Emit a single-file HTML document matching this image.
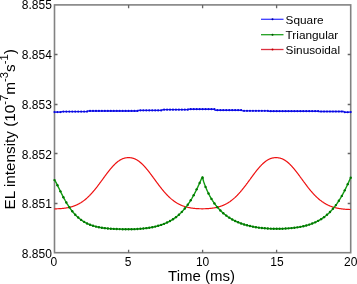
<!DOCTYPE html>
<html><head><meta charset="utf-8"><style>
html,body{margin:0;padding:0;background:#fff;}
body{width:357px;height:284px;overflow:hidden;font-family:"Liberation Sans",sans-serif;}
svg{display:block;will-change:transform;filter:blur(0.3px);}
</style></head><body>
<svg width="357" height="284" viewBox="0 0 357 284"><rect x="54.5" y="4.9" width="296.2" height="247.8" fill="none" stroke="#828282" stroke-width="1.6"/><path d="M54.5,54.5 h3 M350.7,54.5 h-3 M54.5,104.5 h3 M350.7,104.5 h-3 M54.5,153.5 h3 M350.7,153.5 h-3 M54.5,203.5 h3 M350.7,203.5 h-3 M128.6,252.7 v-3 M128.6,4.9 v3.4 M202.6,252.7 v-3 M202.6,4.9 v3.4 M276.6,252.7 v-3 M276.6,4.9 v3.4" stroke="#666" stroke-width="1.3" fill="none"/><path d="M54.50,208.81 L54.80,208.81 L55.09,208.81 L55.39,208.80 L55.68,208.80 L55.98,208.80 L56.28,208.79 L56.57,208.79 L56.87,208.78 L57.17,208.77 L57.46,208.76 L57.76,208.75 L58.05,208.74 L58.35,208.73 L58.65,208.71 L58.94,208.70 L59.24,208.68 L59.54,208.67 L59.83,208.65 L60.13,208.63 L60.42,208.61 L60.72,208.59 L61.02,208.57 L61.31,208.55 L61.61,208.52 L61.91,208.49 L62.20,208.47 L62.50,208.44 L62.79,208.41 L63.09,208.38 L63.39,208.35 L63.68,208.31 L63.98,208.28 L64.27,208.24 L64.57,208.20 L64.87,208.16 L65.16,208.12 L65.46,208.08 L65.76,208.03 L66.05,207.99 L66.35,207.94 L66.64,207.89 L66.94,207.84 L67.24,207.78 L67.53,207.73 L67.83,207.67 L68.13,207.61 L68.42,207.55 L68.72,207.49 L69.01,207.43 L69.31,207.36 L69.61,207.29 L69.90,207.22 L70.20,207.15 L70.49,207.07 L70.79,206.99 L71.09,206.91 L71.38,206.83 L71.68,206.74 L71.98,206.66 L72.27,206.57 L72.57,206.47 L72.86,206.38 L73.16,206.28 L73.46,206.18 L73.75,206.08 L74.05,205.97 L74.35,205.86 L74.64,205.75 L74.94,205.63 L75.23,205.52 L75.53,205.40 L75.83,205.27 L76.12,205.14 L76.42,205.01 L76.72,204.88 L77.01,204.74 L77.31,204.60 L77.60,204.46 L77.90,204.31 L78.20,204.16 L78.49,204.01 L78.79,203.85 L79.08,203.69 L79.38,203.53 L79.68,203.36 L79.97,203.19 L80.27,203.01 L80.57,202.84 L80.86,202.65 L81.16,202.47 L81.45,202.28 L81.75,202.08 L82.05,201.88 L82.34,201.68 L82.64,201.48 L82.94,201.27 L83.23,201.05 L83.53,200.84 L83.82,200.61 L84.12,200.39 L84.42,200.16 L84.71,199.93 L85.01,199.69 L85.30,199.45 L85.60,199.20 L85.90,198.95 L86.19,198.70 L86.49,198.44 L86.79,198.18 L87.08,197.91 L87.38,197.64 L87.67,197.37 L87.97,197.09 L88.27,196.81 L88.56,196.52 L88.86,196.23 L89.16,195.94 L89.45,195.64 L89.75,195.34 L90.04,195.03 L90.34,194.72 L90.64,194.41 L90.93,194.09 L91.23,193.77 L91.53,193.44 L91.82,193.12 L92.12,192.78 L92.41,192.45 L92.71,192.11 L93.01,191.77 L93.30,191.42 L93.60,191.07 L93.89,190.72 L94.19,190.37 L94.49,190.01 L94.78,189.65 L95.08,189.28 L95.38,188.91 L95.67,188.54 L95.97,188.17 L96.26,187.79 L96.56,187.42 L96.86,187.04 L97.15,186.65 L97.45,186.27 L97.75,185.88 L98.04,185.49 L98.34,185.10 L98.63,184.71 L98.93,184.31 L99.23,183.92 L99.52,183.52 L99.82,183.12 L100.11,182.72 L100.41,182.32 L100.71,181.92 L101.00,181.51 L101.30,181.11 L101.60,180.71 L101.89,180.30 L102.19,179.90 L102.48,179.49 L102.78,179.08 L103.08,178.68 L103.37,178.27 L103.67,177.87 L103.97,177.46 L104.26,177.06 L104.56,176.66 L104.85,176.25 L105.15,175.85 L105.45,175.45 L105.74,175.05 L106.04,174.66 L106.34,174.26 L106.63,173.87 L106.93,173.48 L107.22,173.09 L107.52,172.70 L107.82,172.31 L108.11,171.93 L108.41,171.55 L108.70,171.17 L109.00,170.80 L109.30,170.43 L109.59,170.06 L109.89,169.69 L110.19,169.33 L110.48,168.97 L110.78,168.62 L111.07,168.27 L111.37,167.92 L111.67,167.58 L111.96,167.24 L112.26,166.91 L112.56,166.58 L112.85,166.26 L113.15,165.94 L113.44,165.62 L113.74,165.31 L114.04,165.01 L114.33,164.71 L114.63,164.41 L114.92,164.12 L115.22,163.84 L115.52,163.56 L115.81,163.29 L116.11,163.03 L116.41,162.77 L116.70,162.51 L117.00,162.26 L117.29,162.02 L117.59,161.79 L117.89,161.56 L118.18,161.33 L118.48,161.12 L118.78,160.91 L119.07,160.70 L119.37,160.50 L119.66,160.31 L119.96,160.13 L120.26,159.95 L120.55,159.78 L120.85,159.62 L121.14,159.46 L121.44,159.31 L121.74,159.17 L122.03,159.03 L122.33,158.90 L122.63,158.78 L122.92,158.66 L123.22,158.55 L123.51,158.45 L123.81,158.35 L124.11,158.26 L124.40,158.18 L124.70,158.10 L125.00,158.03 L125.29,157.97 L125.59,157.91 L125.88,157.86 L126.18,157.82 L126.48,157.78 L126.77,157.74 L127.07,157.72 L127.37,157.70 L127.66,157.68 L127.96,157.67 L128.25,157.66 L128.55,157.66 L128.85,157.66 L129.14,157.67 L129.44,157.68 L129.73,157.69 L130.03,157.71 L130.33,157.74 L130.62,157.77 L130.92,157.81 L131.22,157.85 L131.51,157.90 L131.81,157.96 L132.10,158.02 L132.40,158.09 L132.70,158.16 L132.99,158.24 L133.29,158.33 L133.59,158.43 L133.88,158.53 L134.18,158.64 L134.47,158.75 L134.77,158.87 L135.07,159.00 L135.36,159.14 L135.66,159.28 L135.95,159.43 L136.25,159.58 L136.55,159.75 L136.84,159.92 L137.14,160.09 L137.44,160.28 L137.73,160.46 L138.03,160.66 L138.32,160.86 L138.62,161.07 L138.92,161.29 L139.21,161.51 L139.51,161.74 L139.81,161.97 L140.10,162.21 L140.40,162.46 L140.69,162.71 L140.99,162.97 L141.29,163.24 L141.58,163.51 L141.88,163.78 L142.18,164.06 L142.47,164.35 L142.77,164.65 L143.06,164.94 L143.36,165.25 L143.66,165.56 L143.95,165.87 L144.25,166.19 L144.54,166.51 L144.84,166.84 L145.14,167.17 L145.43,167.51 L145.73,167.85 L146.03,168.20 L146.32,168.54 L146.62,168.90 L146.91,169.26 L147.21,169.62 L147.51,169.98 L147.80,170.35 L148.10,170.72 L148.40,171.09 L148.69,171.47 L148.99,171.85 L149.28,172.23 L149.58,172.62 L149.88,173.00 L150.17,173.39 L150.47,173.78 L150.76,174.18 L151.06,174.57 L151.36,174.97 L151.65,175.37 L151.95,175.77 L152.25,176.17 L152.54,176.57 L152.84,176.97 L153.13,177.38 L153.43,177.78 L153.73,178.19 L154.02,178.59 L154.32,179.00 L154.62,179.40 L154.91,179.81 L155.21,180.22 L155.50,180.62 L155.80,181.03 L156.10,181.43 L156.39,181.83 L156.69,182.24 L156.99,182.64 L157.28,183.04 L157.58,183.44 L157.87,183.83 L158.17,184.23 L158.47,184.63 L158.76,185.02 L159.06,185.41 L159.35,185.80 L159.65,186.19 L159.95,186.57 L160.24,186.96 L160.54,187.34 L160.84,187.72 L161.13,188.09 L161.43,188.46 L161.72,188.84 L162.02,189.20 L162.32,189.57 L162.61,189.93 L162.91,190.29 L163.21,190.65 L163.50,191.00 L163.80,191.35 L164.09,191.70 L164.39,192.04 L164.69,192.38 L164.98,192.71 L165.28,193.05 L165.57,193.38 L165.87,193.70 L166.17,194.02 L166.46,194.34 L166.76,194.66 L167.06,194.97 L167.35,195.27 L167.65,195.58 L167.94,195.87 L168.24,196.17 L168.54,196.46 L168.83,196.75 L169.13,197.03 L169.43,197.31 L169.72,197.58 L170.02,197.86 L170.31,198.12 L170.61,198.39 L170.91,198.64 L171.20,198.90 L171.50,199.15 L171.80,199.40 L172.09,199.64 L172.39,199.88 L172.68,200.11 L172.98,200.34 L173.28,200.57 L173.57,200.79 L173.87,201.01 L174.16,201.22 L174.46,201.43 L174.76,201.64 L175.05,201.84 L175.35,202.04 L175.65,202.24 L175.94,202.43 L176.24,202.61 L176.53,202.80 L176.83,202.98 L177.13,203.15 L177.42,203.32 L177.72,203.49 L178.02,203.66 L178.31,203.82 L178.61,203.98 L178.90,204.13 L179.20,204.28 L179.50,204.43 L179.79,204.57 L180.09,204.71 L180.38,204.85 L180.68,204.99 L180.98,205.12 L181.27,205.24 L181.57,205.37 L181.87,205.49 L182.16,205.61 L182.46,205.72 L182.75,205.84 L183.05,205.95 L183.35,206.05 L183.64,206.16 L183.94,206.26 L184.24,206.36 L184.53,206.45 L184.83,206.55 L185.12,206.64 L185.42,206.72 L185.72,206.81 L186.01,206.89 L186.31,206.97 L186.61,207.05 L186.90,207.13 L187.20,207.20 L187.49,207.27 L187.79,207.34 L188.09,207.41 L188.38,207.47 L188.68,207.54 L188.97,207.60 L189.27,207.66 L189.57,207.71 L189.86,207.77 L190.16,207.82 L190.46,207.87 L190.75,207.92 L191.05,207.97 L191.34,208.02 L191.64,208.06 L191.94,208.11 L192.23,208.15 L192.53,208.19 L192.83,208.23 L193.12,208.26 L193.42,208.30 L193.71,208.33 L194.01,208.36 L194.31,208.40 L194.60,208.43 L194.90,208.45 L195.19,208.48 L195.49,208.51 L195.79,208.53 L196.08,208.55 L196.38,208.58 L196.68,208.60 L196.97,208.62 L197.27,208.63 L197.56,208.65 L197.86,208.67 L198.16,208.68 L198.45,208.70 L198.75,208.71 L199.05,208.72 L199.34,208.73 L199.64,208.74 L199.93,208.75 L200.23,208.76 L200.53,208.76 L200.82,208.77 L201.12,208.77 L201.42,208.78 L201.71,208.78 L202.01,208.78 L202.30,208.78 L202.60,208.78 L202.90,208.78 L203.19,208.78 L203.49,208.77 L203.78,208.77 L204.08,208.76 L204.38,208.76 L204.67,208.75 L204.97,208.74 L205.27,208.73 L205.56,208.72 L205.86,208.71 L206.15,208.70 L206.45,208.68 L206.75,208.67 L207.04,208.65 L207.34,208.63 L207.64,208.62 L207.93,208.60 L208.23,208.58 L208.52,208.55 L208.82,208.53 L209.12,208.51 L209.41,208.48 L209.71,208.45 L210.00,208.43 L210.30,208.40 L210.60,208.37 L210.89,208.33 L211.19,208.30 L211.49,208.26 L211.78,208.23 L212.08,208.19 L212.37,208.15 L212.67,208.11 L212.97,208.06 L213.26,208.02 L213.56,207.97 L213.86,207.93 L214.15,207.88 L214.45,207.82 L214.74,207.77 L215.04,207.72 L215.34,207.66 L215.63,207.60 L215.93,207.54 L216.23,207.48 L216.52,207.41 L216.82,207.34 L217.11,207.27 L217.41,207.20 L217.71,207.13 L218.00,207.05 L218.30,206.97 L218.59,206.89 L218.89,206.81 L219.19,206.73 L219.48,206.64 L219.78,206.55 L220.08,206.45 L220.37,206.36 L220.67,206.26 L220.96,206.16 L221.26,206.05 L221.56,205.95 L221.85,205.84 L222.15,205.73 L222.45,205.61 L222.74,205.49 L223.04,205.37 L223.33,205.25 L223.63,205.12 L223.93,204.99 L224.22,204.85 L224.52,204.72 L224.81,204.58 L225.11,204.43 L225.41,204.29 L225.70,204.13 L226.00,203.98 L226.30,203.82 L226.59,203.66 L226.89,203.50 L227.18,203.33 L227.48,203.16 L227.78,202.98 L228.07,202.80 L228.37,202.62 L228.67,202.43 L228.96,202.24 L229.26,202.04 L229.55,201.85 L229.85,201.64 L230.15,201.44 L230.44,201.23 L230.74,201.01 L231.04,200.79 L231.33,200.57 L231.63,200.35 L231.92,200.12 L232.22,199.88 L232.52,199.64 L232.81,199.40 L233.11,199.15 L233.40,198.90 L233.70,198.65 L234.00,198.39 L234.29,198.13 L234.59,197.86 L234.89,197.59 L235.18,197.31 L235.48,197.04 L235.77,196.75 L236.07,196.47 L236.37,196.18 L236.66,195.88 L236.96,195.58 L237.26,195.28 L237.55,194.97 L237.85,194.66 L238.14,194.35 L238.44,194.03 L238.74,193.71 L239.03,193.38 L239.33,193.05 L239.62,192.72 L239.92,192.38 L240.22,192.05 L240.51,191.70 L240.81,191.36 L241.11,191.01 L241.40,190.65 L241.70,190.30 L241.99,189.94 L242.29,189.58 L242.59,189.21 L242.88,188.84 L243.18,188.47 L243.48,188.10 L243.77,187.72 L244.07,187.34 L244.36,186.96 L244.66,186.58 L244.96,186.20 L245.25,185.81 L245.55,185.42 L245.85,185.03 L246.14,184.63 L246.44,184.24 L246.73,183.84 L247.03,183.44 L247.33,183.05 L247.62,182.64 L247.92,182.24 L248.21,181.84 L248.51,181.44 L248.81,181.03 L249.10,180.63 L249.40,180.22 L249.70,179.82 L249.99,179.41 L250.29,179.01 L250.58,178.60 L250.88,178.20 L251.18,177.79 L251.47,177.39 L251.77,176.98 L252.07,176.58 L252.36,176.18 L252.66,175.78 L252.95,175.38 L253.25,174.98 L253.55,174.58 L253.84,174.19 L254.14,173.79 L254.44,173.40 L254.73,173.01 L255.03,172.62 L255.32,172.24 L255.62,171.86 L255.92,171.48 L256.21,171.10 L256.51,170.73 L256.80,170.36 L257.10,169.99 L257.40,169.62 L257.69,169.26 L257.99,168.91 L258.29,168.55 L258.58,168.20 L258.88,167.86 L259.17,167.52 L259.47,167.18 L259.77,166.85 L260.06,166.52 L260.36,166.19 L260.66,165.88 L260.95,165.56 L261.25,165.25 L261.54,164.95 L261.84,164.65 L262.14,164.36 L262.43,164.07 L262.73,163.79 L263.02,163.51 L263.32,163.24 L263.62,162.98 L263.91,162.72 L264.21,162.46 L264.51,162.22 L264.80,161.98 L265.10,161.74 L265.39,161.51 L265.69,161.29 L265.99,161.08 L266.28,160.87 L266.58,160.66 L266.88,160.47 L267.17,160.28 L267.47,160.10 L267.76,159.92 L268.06,159.75 L268.36,159.59 L268.65,159.43 L268.95,159.28 L269.25,159.14 L269.54,159.01 L269.84,158.88 L270.13,158.75 L270.43,158.64 L270.73,158.53 L271.02,158.43 L271.32,158.33 L271.61,158.25 L271.91,158.16 L272.21,158.09 L272.50,158.02 L272.80,157.96 L273.10,157.90 L273.39,157.85 L273.69,157.81 L273.98,157.77 L274.28,157.74 L274.58,157.71 L274.87,157.69 L275.17,157.68 L275.47,157.67 L275.76,157.66 L276.06,157.66 L276.35,157.66 L276.65,157.67 L276.95,157.68 L277.24,157.69 L277.54,157.72 L277.83,157.74 L278.13,157.78 L278.43,157.81 L278.72,157.86 L279.02,157.91 L279.32,157.97 L279.61,158.03 L279.91,158.10 L280.20,158.18 L280.50,158.26 L280.80,158.35 L281.09,158.45 L281.39,158.55 L281.69,158.66 L281.98,158.77 L282.28,158.90 L282.57,159.03 L282.87,159.16 L283.17,159.31 L283.46,159.46 L283.76,159.62 L284.05,159.78 L284.35,159.95 L284.65,160.13 L284.94,160.31 L285.24,160.50 L285.54,160.70 L285.83,160.90 L286.13,161.11 L286.42,161.33 L286.72,161.55 L287.02,161.78 L287.31,162.02 L287.61,162.26 L287.91,162.51 L288.20,162.76 L288.50,163.02 L288.79,163.29 L289.09,163.56 L289.39,163.84 L289.68,164.12 L289.98,164.41 L290.28,164.70 L290.57,165.00 L290.87,165.31 L291.16,165.61 L291.46,165.93 L291.76,166.25 L292.05,166.57 L292.35,166.90 L292.64,167.24 L292.94,167.57 L293.24,167.92 L293.53,168.26 L293.83,168.61 L294.13,168.97 L294.42,169.32 L294.72,169.68 L295.01,170.05 L295.31,170.42 L295.61,170.79 L295.90,171.16 L296.20,171.54 L296.50,171.92 L296.79,172.30 L297.09,172.69 L297.38,173.08 L297.68,173.47 L297.98,173.86 L298.27,174.25 L298.57,174.65 L298.87,175.05 L299.16,175.44 L299.46,175.84 L299.75,176.25 L300.05,176.65 L300.35,177.05 L300.64,177.46 L300.94,177.86 L301.23,178.27 L301.53,178.67 L301.83,179.08 L302.12,179.48 L302.42,179.89 L302.72,180.29 L303.01,180.70 L303.31,181.10 L303.60,181.51 L303.90,181.91 L304.20,182.31 L304.49,182.71 L304.79,183.11 L305.09,183.51 L305.38,183.91 L305.68,184.31 L305.97,184.70 L306.27,185.09 L306.57,185.48 L306.86,185.87 L307.16,186.26 L307.45,186.65 L307.75,187.03 L308.05,187.41 L308.34,187.79 L308.64,188.16 L308.94,188.54 L309.23,188.91 L309.53,189.27 L309.82,189.64 L310.12,190.00 L310.42,190.36 L310.71,190.71 L311.01,191.07 L311.31,191.41 L311.60,191.76 L311.90,192.10 L312.19,192.44 L312.49,192.78 L312.79,193.11 L313.08,193.44 L313.38,193.76 L313.68,194.08 L313.97,194.40 L314.27,194.71 L314.56,195.02 L314.86,195.33 L315.16,195.63 L315.45,195.93 L315.75,196.22 L316.04,196.52 L316.34,196.80 L316.64,197.08 L316.93,197.36 L317.23,197.64 L317.53,197.91 L317.82,198.17 L318.12,198.43 L318.41,198.69 L318.71,198.95 L319.01,199.20 L319.30,199.44 L319.60,199.68 L319.90,199.92 L320.19,200.16 L320.49,200.38 L320.78,200.61 L321.08,200.83 L321.38,201.06 L321.67,201.28 L321.97,201.49 L322.26,201.71 L322.56,201.92 L322.86,202.12 L323.15,202.32 L323.45,202.52 L323.75,202.71 L324.04,202.90 L324.34,203.09 L324.63,203.27 L324.93,203.45 L325.23,203.62 L325.52,203.79 L325.82,203.96 L326.12,204.13 L326.41,204.29 L326.71,204.44 L327.00,204.60 L327.30,204.75 L327.60,204.89 L327.89,205.04 L328.19,205.18 L328.49,205.32 L328.78,205.45 L329.08,205.58 L329.37,205.71 L329.67,205.83 L329.97,205.96 L330.26,206.08 L330.56,206.19 L330.85,206.30 L331.15,206.42 L331.45,206.52 L331.74,206.63 L332.04,206.73 L332.34,206.83 L332.63,206.93 L332.93,207.02 L333.22,207.11 L333.52,207.20 L333.82,207.29 L334.11,207.38 L334.41,207.46 L334.71,207.54 L335.00,207.62 L335.30,207.69 L335.59,207.77 L335.89,207.84 L336.19,207.91 L336.48,207.98 L336.78,208.04 L337.07,208.11 L337.37,208.17 L337.67,208.23 L337.96,208.29 L338.26,208.34 L338.56,208.40 L338.85,208.45 L339.15,208.50 L339.44,208.55 L339.74,208.60 L340.04,208.65 L340.33,208.69 L340.63,208.74 L340.93,208.78 L341.22,208.82 L341.52,208.86 L341.81,208.90 L342.11,208.94 L342.41,208.97 L342.70,209.01 L343.00,209.04 L343.29,209.07 L343.59,209.10 L343.89,209.13 L344.18,209.16 L344.48,209.18 L344.78,209.21 L345.07,209.23 L345.37,209.26 L345.66,209.28 L345.96,209.30 L346.26,209.32 L346.55,209.34 L346.85,209.36 L347.15,209.38 L347.44,209.39 L347.74,209.41 L348.03,209.42 L348.33,209.44 L348.63,209.45 L348.92,209.46 L349.22,209.47 L349.52,209.48 L349.81,209.49 L350.11,209.49 L350.40,209.50 L350.70,209.51" stroke="#ee1010" stroke-width="1.2" fill="none" stroke-linejoin="round"/><path d="M54.50,180.09 L54.80,180.41 L55.09,180.84 L55.39,181.32 L55.68,181.83 L55.98,182.36 L56.28,182.92 L56.57,183.49 L56.87,184.07 L57.17,184.66 L57.46,185.26 L57.76,185.86 L58.05,186.47 L58.35,187.07 L58.65,187.69 L58.94,188.30 L59.24,188.91 L59.54,189.52 L59.83,190.13 L60.13,190.74 L60.42,191.35 L60.72,191.95 L61.02,192.55 L61.31,193.15 L61.61,193.75 L61.91,194.33 L62.20,194.92 L62.50,195.50 L62.79,196.08 L63.09,196.65 L63.39,197.21 L63.68,197.77 L63.98,198.32 L64.27,198.87 L64.57,199.41 L64.87,199.95 L65.16,200.48 L65.46,201.00 L65.76,201.52 L66.05,202.03 L66.35,202.53 L66.64,203.03 L66.94,203.52 L67.24,204.01 L67.53,204.49 L67.83,204.96 L68.13,205.42 L68.42,205.88 L68.72,206.34 L69.01,206.78 L69.31,207.22 L69.61,207.65 L69.90,208.08 L70.20,208.50 L70.49,208.91 L70.79,209.32 L71.09,209.72 L71.38,210.11 L71.68,210.50 L71.98,210.88 L72.27,211.26 L72.57,211.63 L72.86,211.99 L73.16,212.35 L73.46,212.70 L73.75,213.04 L74.05,213.38 L74.35,213.71 L74.64,214.04 L74.94,214.36 L75.23,214.68 L75.53,214.99 L75.83,215.29 L76.12,215.59 L76.42,215.89 L76.72,216.18 L77.01,216.46 L77.31,216.74 L77.60,217.01 L77.90,217.28 L78.20,217.54 L78.49,217.80 L78.79,218.06 L79.08,218.30 L79.38,218.55 L79.68,218.79 L79.97,219.02 L80.27,219.25 L80.57,219.48 L80.86,219.70 L81.16,219.92 L81.45,220.13 L81.75,220.34 L82.05,220.54 L82.34,220.74 L82.64,220.94 L82.94,221.13 L83.23,221.32 L83.53,221.51 L83.82,221.69 L84.12,221.86 L84.42,222.04 L84.71,222.21 L85.01,222.37 L85.30,222.54 L85.60,222.70 L85.90,222.85 L86.19,223.01 L86.49,223.16 L86.79,223.31 L87.08,223.45 L87.38,223.59 L87.67,223.73 L87.97,223.86 L88.27,224.00 L88.56,224.12 L88.86,224.25 L89.16,224.38 L89.45,224.50 L89.75,224.61 L90.04,224.73 L90.34,224.84 L90.64,224.96 L90.93,225.06 L91.23,225.17 L91.53,225.27 L91.82,225.38 L92.12,225.47 L92.41,225.57 L92.71,225.67 L93.01,225.76 L93.30,225.85 L93.60,225.94 L93.89,226.03 L94.19,226.11 L94.49,226.19 L94.78,226.27 L95.08,226.35 L95.38,226.43 L95.67,226.51 L95.97,226.58 L96.26,226.65 L96.56,226.72 L96.86,226.79 L97.15,226.86 L97.45,226.93 L97.75,226.99 L98.04,227.05 L98.34,227.11 L98.63,227.17 L98.93,227.23 L99.23,227.29 L99.52,227.35 L99.82,227.40 L100.11,227.45 L100.41,227.50 L100.71,227.56 L101.00,227.61 L101.30,227.65 L101.60,227.70 L101.89,227.75 L102.19,227.79 L102.48,227.84 L102.78,227.88 L103.08,227.92 L103.37,227.96 L103.67,228.00 L103.97,228.04 L104.26,228.08 L104.56,228.11 L104.85,228.15 L105.15,228.18 L105.45,228.22 L105.74,228.25 L106.04,228.28 L106.34,228.32 L106.63,228.35 L106.93,228.38 L107.22,228.41 L107.52,228.43 L107.82,228.46 L108.11,228.49 L108.41,228.52 L108.70,228.54 L109.00,228.57 L109.30,228.59 L109.59,228.61 L109.89,228.64 L110.19,228.66 L110.48,228.68 L110.78,228.70 L111.07,228.72 L111.37,228.74 L111.67,228.76 L111.96,228.78 L112.26,228.80 L112.56,228.82 L112.85,228.84 L113.15,228.85 L113.44,228.87 L113.74,228.89 L114.04,228.90 L114.33,228.92 L114.63,228.93 L114.92,228.95 L115.22,228.96 L115.52,228.97 L115.81,228.99 L116.11,229.00 L116.41,229.01 L116.70,229.02 L117.00,229.03 L117.29,229.05 L117.59,229.06 L117.89,229.07 L118.18,229.08 L118.48,229.09 L118.78,229.10 L119.07,229.10 L119.37,229.11 L119.66,229.12 L119.96,229.13 L120.26,229.14 L120.55,229.14 L120.85,229.15 L121.14,229.16 L121.44,229.16 L121.74,229.17 L122.03,229.18 L122.33,229.18 L122.63,229.19 L122.92,229.19 L123.22,229.20 L123.51,229.20 L123.81,229.21 L124.11,229.21 L124.40,229.21 L124.70,229.22 L125.00,229.22 L125.29,229.22 L125.59,229.23 L125.88,229.23 L126.18,229.23 L126.48,229.23 L126.77,229.23 L127.07,229.23 L127.37,229.24 L127.66,229.24 L127.96,229.24 L128.25,229.24 L128.55,229.24 L128.85,229.24 L129.14,229.24 L129.44,229.24 L129.73,229.23 L130.03,229.23 L130.33,229.23 L130.62,229.22 L130.92,229.22 L131.22,229.22 L131.51,229.21 L131.81,229.20 L132.10,229.20 L132.40,229.19 L132.70,229.18 L132.99,229.18 L133.29,229.17 L133.59,229.16 L133.88,229.15 L134.18,229.14 L134.47,229.13 L134.77,229.12 L135.07,229.10 L135.36,229.09 L135.66,229.08 L135.95,229.07 L136.25,229.05 L136.55,229.04 L136.84,229.02 L137.14,229.00 L137.44,228.99 L137.73,228.97 L138.03,228.95 L138.32,228.93 L138.62,228.91 L138.92,228.89 L139.21,228.87 L139.51,228.85 L139.81,228.83 L140.10,228.81 L140.40,228.79 L140.69,228.76 L140.99,228.74 L141.29,228.71 L141.58,228.69 L141.88,228.66 L142.18,228.63 L142.47,228.61 L142.77,228.58 L143.06,228.55 L143.36,228.52 L143.66,228.49 L143.95,228.45 L144.25,228.42 L144.54,228.39 L144.84,228.35 L145.14,228.32 L145.43,228.28 L145.73,228.25 L146.03,228.21 L146.32,228.17 L146.62,228.13 L146.91,228.09 L147.21,228.05 L147.51,228.01 L147.80,227.97 L148.10,227.93 L148.40,227.88 L148.69,227.84 L148.99,227.79 L149.28,227.74 L149.58,227.70 L149.88,227.65 L150.17,227.60 L150.47,227.55 L150.76,227.49 L151.06,227.44 L151.36,227.39 L151.65,227.33 L151.95,227.28 L152.25,227.22 L152.54,227.16 L152.84,227.10 L153.13,227.04 L153.43,226.98 L153.73,226.92 L154.02,226.85 L154.32,226.79 L154.62,226.72 L154.91,226.65 L155.21,226.58 L155.50,226.51 L155.80,226.44 L156.10,226.37 L156.39,226.29 L156.69,226.22 L156.99,226.14 L157.28,226.06 L157.58,225.98 L157.87,225.90 L158.17,225.82 L158.47,225.74 L158.76,225.65 L159.06,225.56 L159.35,225.47 L159.65,225.38 L159.95,225.29 L160.24,225.20 L160.54,225.10 L160.84,225.01 L161.13,224.91 L161.43,224.81 L161.72,224.71 L162.02,224.60 L162.32,224.50 L162.61,224.39 L162.91,224.28 L163.21,224.17 L163.50,224.06 L163.80,223.94 L164.09,223.83 L164.39,223.71 L164.69,223.59 L164.98,223.46 L165.28,223.34 L165.57,223.21 L165.87,223.08 L166.17,222.95 L166.46,222.82 L166.76,222.68 L167.06,222.54 L167.35,222.40 L167.65,222.26 L167.94,222.11 L168.24,221.97 L168.54,221.82 L168.83,221.66 L169.13,221.51 L169.43,221.35 L169.72,221.19 L170.02,221.03 L170.31,220.86 L170.61,220.70 L170.91,220.52 L171.20,220.35 L171.50,220.17 L171.80,219.99 L172.09,219.81 L172.39,219.63 L172.68,219.44 L172.98,219.25 L173.28,219.05 L173.57,218.85 L173.87,218.65 L174.16,218.45 L174.46,218.24 L174.76,218.03 L175.05,217.82 L175.35,217.60 L175.65,217.38 L175.94,217.15 L176.24,216.93 L176.53,216.69 L176.83,216.46 L177.13,216.22 L177.42,215.98 L177.72,215.73 L178.02,215.48 L178.31,215.23 L178.61,214.97 L178.90,214.70 L179.20,214.44 L179.50,214.17 L179.79,213.89 L180.09,213.61 L180.38,213.33 L180.68,213.04 L180.98,212.75 L181.27,212.45 L181.57,212.15 L181.87,211.84 L182.16,211.53 L182.46,211.22 L182.75,210.90 L183.05,210.57 L183.35,210.24 L183.64,209.91 L183.94,209.57 L184.24,209.22 L184.53,208.87 L184.83,208.52 L185.12,208.16 L185.42,207.79 L185.72,207.42 L186.01,207.04 L186.31,206.66 L186.61,206.27 L186.90,205.88 L187.20,205.48 L187.49,205.07 L187.79,204.66 L188.09,204.25 L188.38,203.82 L188.68,203.39 L188.97,202.96 L189.27,202.52 L189.57,202.07 L189.86,201.62 L190.16,201.16 L190.46,200.69 L190.75,200.22 L191.05,199.74 L191.34,199.25 L191.64,198.76 L191.94,198.26 L192.23,197.75 L192.53,197.24 L192.83,196.72 L193.12,196.20 L193.42,195.66 L193.71,195.13 L194.01,194.58 L194.31,194.03 L194.60,193.47 L194.90,192.90 L195.19,192.32 L195.49,191.74 L195.79,191.16 L196.08,190.56 L196.38,189.96 L196.68,189.35 L196.97,188.74 L197.27,188.12 L197.56,187.49 L197.86,186.86 L198.16,186.22 L198.45,185.57 L198.75,184.92 L199.05,184.26 L199.34,183.60 L199.64,182.93 L199.93,182.26 L200.23,181.59 L200.53,180.91 L200.82,180.23 L201.12,179.55 L201.42,178.87 L201.71,178.20 L202.01,177.53 L202.30,176.89 L202.60,177.00 L202.90,179.01 L203.19,180.07 L203.49,181.05 L203.78,181.98 L204.08,182.87 L204.38,183.73 L204.67,184.56 L204.97,185.36 L205.27,186.14 L205.56,186.90 L205.86,187.63 L206.15,188.35 L206.45,189.05 L206.75,189.73 L207.04,190.40 L207.34,191.05 L207.64,191.69 L207.93,192.32 L208.23,192.93 L208.52,193.53 L208.82,194.12 L209.12,194.69 L209.41,195.26 L209.71,195.81 L210.00,196.35 L210.30,196.89 L210.60,197.41 L210.89,197.92 L211.19,198.42 L211.49,198.92 L211.78,199.40 L212.08,199.88 L212.37,200.35 L212.67,200.81 L212.97,201.26 L213.26,201.71 L213.56,202.14 L213.86,202.57 L214.15,203.00 L214.45,203.41 L214.74,203.82 L215.04,204.22 L215.34,204.62 L215.63,205.01 L215.93,205.39 L216.23,205.76 L216.52,206.13 L216.82,206.50 L217.11,206.86 L217.41,207.21 L217.71,207.55 L218.00,207.90 L218.30,208.23 L218.59,208.56 L218.89,208.89 L219.19,209.21 L219.48,209.52 L219.78,209.83 L220.08,210.14 L220.37,210.44 L220.67,210.74 L220.96,211.03 L221.26,211.32 L221.56,211.60 L221.85,211.88 L222.15,212.15 L222.45,212.42 L222.74,212.69 L223.04,212.95 L223.33,213.21 L223.63,213.47 L223.93,213.72 L224.22,213.97 L224.52,214.21 L224.81,214.45 L225.11,214.68 L225.41,214.92 L225.70,215.15 L226.00,215.37 L226.30,215.60 L226.59,215.82 L226.89,216.03 L227.18,216.24 L227.48,216.45 L227.78,216.66 L228.07,216.87 L228.37,217.07 L228.67,217.26 L228.96,217.46 L229.26,217.65 L229.55,217.84 L229.85,218.03 L230.15,218.21 L230.44,218.39 L230.74,218.57 L231.04,218.75 L231.33,218.92 L231.63,219.09 L231.92,219.26 L232.22,219.43 L232.52,219.59 L232.81,219.76 L233.11,219.91 L233.40,220.07 L233.70,220.23 L234.00,220.38 L234.29,220.53 L234.59,220.68 L234.89,220.82 L235.18,220.97 L235.48,221.11 L235.77,221.25 L236.07,221.39 L236.37,221.52 L236.66,221.66 L236.96,221.79 L237.26,221.92 L237.55,222.05 L237.85,222.17 L238.14,222.30 L238.44,222.42 L238.74,222.54 L239.03,222.66 L239.33,222.78 L239.62,222.90 L239.92,223.01 L240.22,223.12 L240.51,223.23 L240.81,223.34 L241.11,223.45 L241.40,223.56 L241.70,223.66 L241.99,223.76 L242.29,223.87 L242.59,223.97 L242.88,224.07 L243.18,224.16 L243.48,224.26 L243.77,224.35 L244.07,224.45 L244.36,224.54 L244.66,224.63 L244.96,224.72 L245.25,224.80 L245.55,224.89 L245.85,224.98 L246.14,225.06 L246.44,225.14 L246.73,225.22 L247.03,225.30 L247.33,225.38 L247.62,225.46 L247.92,225.54 L248.21,225.61 L248.51,225.69 L248.81,225.76 L249.10,225.83 L249.40,225.90 L249.70,225.97 L249.99,226.04 L250.29,226.11 L250.58,226.17 L250.88,226.24 L251.18,226.30 L251.47,226.37 L251.77,226.43 L252.07,226.49 L252.36,226.55 L252.66,226.61 L252.95,226.67 L253.25,226.72 L253.55,226.78 L253.84,226.83 L254.14,226.89 L254.44,226.94 L254.73,226.99 L255.03,227.05 L255.32,227.10 L255.62,227.15 L255.92,227.20 L256.21,227.24 L256.51,227.29 L256.80,227.34 L257.10,227.38 L257.40,227.43 L257.69,227.47 L257.99,227.51 L258.29,227.56 L258.58,227.60 L258.88,227.64 L259.17,227.68 L259.47,227.72 L259.77,227.76 L260.06,227.79 L260.36,227.83 L260.66,227.86 L260.95,227.90 L261.25,227.93 L261.54,227.97 L261.84,228.00 L262.14,228.03 L262.43,228.06 L262.73,228.09 L263.02,228.12 L263.32,228.15 L263.62,228.18 L263.91,228.21 L264.21,228.24 L264.51,228.26 L264.80,228.29 L265.10,228.31 L265.39,228.34 L265.69,228.36 L265.99,228.38 L266.28,228.41 L266.58,228.43 L266.88,228.45 L267.17,228.47 L267.47,228.49 L267.76,228.51 L268.06,228.53 L268.36,228.54 L268.65,228.56 L268.95,228.58 L269.25,228.59 L269.54,228.61 L269.84,228.62 L270.13,228.64 L270.43,228.65 L270.73,228.66 L271.02,228.67 L271.32,228.69 L271.61,228.70 L271.91,228.71 L272.21,228.72 L272.50,228.72 L272.80,228.73 L273.10,228.74 L273.39,228.75 L273.69,228.75 L273.98,228.76 L274.28,228.77 L274.58,228.77 L274.87,228.77 L275.17,228.78 L275.47,228.78 L275.76,228.78 L276.06,228.78 L276.35,228.78 L276.65,228.78 L276.95,228.78 L277.24,228.78 L277.54,228.78 L277.83,228.78 L278.13,228.78 L278.43,228.77 L278.72,228.77 L279.02,228.77 L279.32,228.76 L279.61,228.76 L279.91,228.75 L280.20,228.75 L280.50,228.74 L280.80,228.73 L281.09,228.73 L281.39,228.72 L281.69,228.71 L281.98,228.70 L282.28,228.69 L282.57,228.68 L282.87,228.67 L283.17,228.66 L283.46,228.64 L283.76,228.63 L284.05,228.62 L284.35,228.60 L284.65,228.59 L284.94,228.58 L285.24,228.56 L285.54,228.54 L285.83,228.53 L286.13,228.51 L286.42,228.49 L286.72,228.47 L287.02,228.45 L287.31,228.43 L287.61,228.41 L287.91,228.39 L288.20,228.37 L288.50,228.35 L288.79,228.33 L289.09,228.30 L289.39,228.28 L289.68,228.25 L289.98,228.23 L290.28,228.20 L290.57,228.17 L290.87,228.15 L291.16,228.12 L291.46,228.09 L291.76,228.06 L292.05,228.03 L292.35,228.00 L292.64,227.97 L292.94,227.93 L293.24,227.90 L293.53,227.87 L293.83,227.83 L294.13,227.79 L294.42,227.76 L294.72,227.72 L295.01,227.68 L295.31,227.64 L295.61,227.60 L295.90,227.56 L296.20,227.52 L296.50,227.48 L296.79,227.43 L297.09,227.39 L297.38,227.34 L297.68,227.30 L297.98,227.25 L298.27,227.20 L298.57,227.15 L298.87,227.10 L299.16,227.05 L299.46,227.00 L299.75,226.95 L300.05,226.89 L300.35,226.84 L300.64,226.78 L300.94,226.73 L301.23,226.67 L301.53,226.61 L301.83,226.55 L302.12,226.48 L302.42,226.42 L302.72,226.36 L303.01,226.29 L303.31,226.23 L303.60,226.16 L303.90,226.09 L304.20,226.02 L304.49,225.95 L304.79,225.87 L305.09,225.80 L305.38,225.72 L305.68,225.65 L305.97,225.57 L306.27,225.49 L306.57,225.41 L306.86,225.33 L307.16,225.24 L307.45,225.16 L307.75,225.07 L308.05,224.98 L308.34,224.89 L308.64,224.80 L308.94,224.71 L309.23,224.61 L309.53,224.51 L309.82,224.42 L310.12,224.32 L310.42,224.22 L310.71,224.11 L311.01,224.01 L311.31,223.90 L311.60,223.79 L311.90,223.68 L312.19,223.57 L312.49,223.45 L312.79,223.34 L313.08,223.22 L313.38,223.10 L313.68,222.97 L313.97,222.85 L314.27,222.72 L314.56,222.59 L314.86,222.46 L315.16,222.33 L315.45,222.20 L315.75,222.06 L316.04,221.92 L316.34,221.78 L316.64,221.63 L316.93,221.48 L317.23,221.33 L317.53,221.18 L317.82,221.03 L318.12,220.87 L318.41,220.71 L318.71,220.55 L319.01,220.38 L319.30,220.22 L319.60,220.05 L319.90,219.87 L320.19,219.70 L320.49,219.52 L320.78,219.34 L321.08,219.15 L321.38,218.97 L321.67,218.77 L321.97,218.58 L322.26,218.38 L322.56,218.18 L322.86,217.98 L323.15,217.77 L323.45,217.56 L323.75,217.35 L324.04,217.14 L324.34,216.92 L324.63,216.69 L324.93,216.47 L325.23,216.23 L325.52,216.00 L325.82,215.76 L326.12,215.52 L326.41,215.28 L326.71,215.03 L327.00,214.77 L327.30,214.52 L327.60,214.26 L327.89,213.99 L328.19,213.72 L328.49,213.45 L328.78,213.17 L329.08,212.89 L329.37,212.60 L329.67,212.31 L329.97,212.02 L330.26,211.72 L330.56,211.41 L330.85,211.10 L331.15,210.79 L331.45,210.47 L331.74,210.15 L332.04,209.82 L332.34,209.49 L332.63,209.15 L332.93,208.81 L333.22,208.46 L333.52,208.11 L333.82,207.75 L334.11,207.39 L334.41,207.02 L334.71,206.64 L335.00,206.27 L335.30,205.88 L335.59,205.49 L335.89,205.09 L336.19,204.69 L336.48,204.28 L336.78,203.87 L337.07,203.45 L337.37,203.02 L337.67,202.59 L337.96,202.16 L338.26,201.71 L338.56,201.26 L338.85,200.81 L339.15,200.35 L339.44,199.88 L339.74,199.40 L340.04,198.92 L340.33,198.43 L340.63,197.94 L340.93,197.44 L341.22,196.93 L341.52,196.42 L341.81,195.90 L342.11,195.37 L342.41,194.84 L342.70,194.30 L343.00,193.75 L343.29,193.20 L343.59,192.64 L343.89,192.07 L344.18,191.50 L344.48,190.92 L344.78,190.33 L345.07,189.74 L345.37,189.14 L345.66,188.54 L345.96,187.93 L346.26,187.31 L346.55,186.69 L346.85,186.06 L347.15,185.43 L347.44,184.79 L347.74,184.14 L348.03,183.50 L348.33,182.85 L348.63,182.19 L348.92,181.54 L349.22,180.88 L349.52,180.23 L349.81,179.58 L350.11,178.94 L350.40,178.32 L350.70,177.75" stroke="#109a10" stroke-width="1.4" fill="none" stroke-linejoin="round"/><g fill="#007800"><circle cx="54.50" cy="180.09" r="1.2"/><circle cx="57.46" cy="185.26" r="1.2"/><circle cx="60.42" cy="191.35" r="1.2"/><circle cx="63.39" cy="197.21" r="1.2"/><circle cx="66.35" cy="202.53" r="1.2"/><circle cx="69.31" cy="207.22" r="1.2"/><circle cx="72.27" cy="211.26" r="1.2"/><circle cx="75.23" cy="214.68" r="1.2"/><circle cx="78.20" cy="217.54" r="1.2"/><circle cx="81.16" cy="219.92" r="1.2"/><circle cx="84.12" cy="221.86" r="1.2"/><circle cx="87.08" cy="223.45" r="1.2"/><circle cx="90.04" cy="224.73" r="1.2"/><circle cx="93.01" cy="225.76" r="1.2"/><circle cx="95.97" cy="226.58" r="1.2"/><circle cx="98.93" cy="227.23" r="1.2"/><circle cx="101.89" cy="227.75" r="1.2"/><circle cx="104.85" cy="228.15" r="1.2"/><circle cx="107.82" cy="228.46" r="1.2"/><circle cx="110.78" cy="228.70" r="1.2"/><circle cx="113.74" cy="228.89" r="1.2"/><circle cx="116.70" cy="229.02" r="1.2"/><circle cx="119.66" cy="229.12" r="1.2"/><circle cx="122.63" cy="229.19" r="1.2"/><circle cx="125.59" cy="229.23" r="1.2"/><circle cx="128.55" cy="229.24" r="1.2"/><circle cx="131.51" cy="229.21" r="1.2"/><circle cx="134.47" cy="229.13" r="1.2"/><circle cx="137.44" cy="228.99" r="1.2"/><circle cx="140.40" cy="228.79" r="1.2"/><circle cx="143.36" cy="228.52" r="1.2"/><circle cx="146.32" cy="228.17" r="1.2"/><circle cx="149.28" cy="227.74" r="1.2"/><circle cx="152.25" cy="227.22" r="1.2"/><circle cx="155.21" cy="226.58" r="1.2"/><circle cx="158.17" cy="225.82" r="1.2"/><circle cx="161.13" cy="224.91" r="1.2"/><circle cx="164.09" cy="223.83" r="1.2"/><circle cx="167.06" cy="222.54" r="1.2"/><circle cx="170.02" cy="221.03" r="1.2"/><circle cx="172.98" cy="219.25" r="1.2"/><circle cx="175.94" cy="217.15" r="1.2"/><circle cx="178.90" cy="214.70" r="1.2"/><circle cx="181.87" cy="211.84" r="1.2"/><circle cx="184.83" cy="208.52" r="1.2"/><circle cx="187.79" cy="204.66" r="1.2"/><circle cx="190.75" cy="200.22" r="1.2"/><circle cx="193.71" cy="195.13" r="1.2"/><circle cx="196.68" cy="189.35" r="1.2"/><circle cx="199.64" cy="182.93" r="1.2"/><circle cx="202.60" cy="177.75" r="1.2"/><circle cx="205.56" cy="186.90" r="1.2"/><circle cx="208.52" cy="193.53" r="1.2"/><circle cx="211.49" cy="198.92" r="1.2"/><circle cx="214.45" cy="203.41" r="1.2"/><circle cx="217.41" cy="207.21" r="1.2"/><circle cx="220.37" cy="210.44" r="1.2"/><circle cx="223.33" cy="213.21" r="1.2"/><circle cx="226.30" cy="215.60" r="1.2"/><circle cx="229.26" cy="217.65" r="1.2"/><circle cx="232.22" cy="219.43" r="1.2"/><circle cx="235.18" cy="220.97" r="1.2"/><circle cx="238.14" cy="222.30" r="1.2"/><circle cx="241.11" cy="223.45" r="1.2"/><circle cx="244.07" cy="224.45" r="1.2"/><circle cx="247.03" cy="225.30" r="1.2"/><circle cx="249.99" cy="226.04" r="1.2"/><circle cx="252.95" cy="226.67" r="1.2"/><circle cx="255.92" cy="227.20" r="1.2"/><circle cx="258.88" cy="227.64" r="1.2"/><circle cx="261.84" cy="228.00" r="1.2"/><circle cx="264.80" cy="228.29" r="1.2"/><circle cx="267.76" cy="228.51" r="1.2"/><circle cx="270.73" cy="228.66" r="1.2"/><circle cx="273.69" cy="228.75" r="1.2"/><circle cx="276.65" cy="228.78" r="1.2"/><circle cx="279.61" cy="228.76" r="1.2"/><circle cx="282.57" cy="228.68" r="1.2"/><circle cx="285.54" cy="228.54" r="1.2"/><circle cx="288.50" cy="228.35" r="1.2"/><circle cx="291.46" cy="228.09" r="1.2"/><circle cx="294.42" cy="227.76" r="1.2"/><circle cx="297.38" cy="227.34" r="1.2"/><circle cx="300.35" cy="226.84" r="1.2"/><circle cx="303.31" cy="226.23" r="1.2"/><circle cx="306.27" cy="225.49" r="1.2"/><circle cx="309.23" cy="224.61" r="1.2"/><circle cx="312.19" cy="223.57" r="1.2"/><circle cx="315.16" cy="222.33" r="1.2"/><circle cx="318.12" cy="220.87" r="1.2"/><circle cx="321.08" cy="219.15" r="1.2"/><circle cx="324.04" cy="217.14" r="1.2"/><circle cx="327.00" cy="214.77" r="1.2"/><circle cx="329.97" cy="212.02" r="1.2"/><circle cx="332.93" cy="208.81" r="1.2"/><circle cx="335.89" cy="205.09" r="1.2"/><circle cx="338.85" cy="200.81" r="1.2"/><circle cx="341.81" cy="195.90" r="1.2"/><circle cx="344.78" cy="190.33" r="1.2"/><circle cx="347.74" cy="184.14" r="1.2"/><circle cx="350.70" cy="177.75" r="1.2"/></g><path d="M54.50,112.10 L61.00,112.10 L61.80,111.60 L86.80,111.60 L87.60,110.95 L137.60,110.95 L138.40,110.40 L161.70,110.40 L162.50,109.65 L187.70,109.65 L188.50,109.20 L214.20,109.20 L215.00,110.20 L241.70,110.20 L242.50,110.85 L267.70,110.85 L268.50,111.20 L318.20,111.20 L319.00,111.50 L343.70,111.50 L344.50,112.25 L348.20,112.25 L349.00,112.10 L350.70,112.10" stroke="#2424f0" stroke-width="1.35" fill="none" stroke-linejoin="round"/><g fill="#0808e0"><circle cx="54.50" cy="112.10" r="1.1"/><circle cx="57.46" cy="112.10" r="1.1"/><circle cx="60.42" cy="112.10" r="1.1"/><circle cx="63.39" cy="111.60" r="1.1"/><circle cx="66.35" cy="111.60" r="1.1"/><circle cx="69.31" cy="111.60" r="1.1"/><circle cx="72.27" cy="111.60" r="1.1"/><circle cx="75.23" cy="111.60" r="1.1"/><circle cx="78.20" cy="111.60" r="1.1"/><circle cx="81.16" cy="111.60" r="1.1"/><circle cx="84.12" cy="111.60" r="1.1"/><circle cx="87.08" cy="111.60" r="1.1"/><circle cx="90.04" cy="110.95" r="1.1"/><circle cx="93.01" cy="110.95" r="1.1"/><circle cx="95.97" cy="110.95" r="1.1"/><circle cx="98.93" cy="110.95" r="1.1"/><circle cx="101.89" cy="110.95" r="1.1"/><circle cx="104.85" cy="110.95" r="1.1"/><circle cx="107.82" cy="110.95" r="1.1"/><circle cx="110.78" cy="110.95" r="1.1"/><circle cx="113.74" cy="110.95" r="1.1"/><circle cx="116.70" cy="110.95" r="1.1"/><circle cx="119.66" cy="110.95" r="1.1"/><circle cx="122.63" cy="110.95" r="1.1"/><circle cx="125.59" cy="110.95" r="1.1"/><circle cx="128.55" cy="110.95" r="1.1"/><circle cx="131.51" cy="110.95" r="1.1"/><circle cx="134.47" cy="110.95" r="1.1"/><circle cx="137.44" cy="110.95" r="1.1"/><circle cx="140.40" cy="110.40" r="1.1"/><circle cx="143.36" cy="110.40" r="1.1"/><circle cx="146.32" cy="110.40" r="1.1"/><circle cx="149.28" cy="110.40" r="1.1"/><circle cx="152.25" cy="110.40" r="1.1"/><circle cx="155.21" cy="110.40" r="1.1"/><circle cx="158.17" cy="110.40" r="1.1"/><circle cx="161.13" cy="110.40" r="1.1"/><circle cx="164.09" cy="109.65" r="1.1"/><circle cx="167.06" cy="109.65" r="1.1"/><circle cx="170.02" cy="109.65" r="1.1"/><circle cx="172.98" cy="109.65" r="1.1"/><circle cx="175.94" cy="109.65" r="1.1"/><circle cx="178.90" cy="109.65" r="1.1"/><circle cx="181.87" cy="109.65" r="1.1"/><circle cx="184.83" cy="109.65" r="1.1"/><circle cx="187.79" cy="109.65" r="1.1"/><circle cx="190.75" cy="109.20" r="1.1"/><circle cx="193.71" cy="109.20" r="1.1"/><circle cx="196.68" cy="109.20" r="1.1"/><circle cx="199.64" cy="109.20" r="1.1"/><circle cx="202.60" cy="109.20" r="1.1"/><circle cx="205.56" cy="109.20" r="1.1"/><circle cx="208.52" cy="109.20" r="1.1"/><circle cx="211.49" cy="109.20" r="1.1"/><circle cx="214.45" cy="109.20" r="1.1"/><circle cx="217.41" cy="110.20" r="1.1"/><circle cx="220.37" cy="110.20" r="1.1"/><circle cx="223.33" cy="110.20" r="1.1"/><circle cx="226.30" cy="110.20" r="1.1"/><circle cx="229.26" cy="110.20" r="1.1"/><circle cx="232.22" cy="110.20" r="1.1"/><circle cx="235.18" cy="110.20" r="1.1"/><circle cx="238.14" cy="110.20" r="1.1"/><circle cx="241.11" cy="110.20" r="1.1"/><circle cx="244.07" cy="110.85" r="1.1"/><circle cx="247.03" cy="110.85" r="1.1"/><circle cx="249.99" cy="110.85" r="1.1"/><circle cx="252.95" cy="110.85" r="1.1"/><circle cx="255.92" cy="110.85" r="1.1"/><circle cx="258.88" cy="110.85" r="1.1"/><circle cx="261.84" cy="110.85" r="1.1"/><circle cx="264.80" cy="110.85" r="1.1"/><circle cx="267.76" cy="110.85" r="1.1"/><circle cx="270.73" cy="111.20" r="1.1"/><circle cx="273.69" cy="111.20" r="1.1"/><circle cx="276.65" cy="111.20" r="1.1"/><circle cx="279.61" cy="111.20" r="1.1"/><circle cx="282.57" cy="111.20" r="1.1"/><circle cx="285.54" cy="111.20" r="1.1"/><circle cx="288.50" cy="111.20" r="1.1"/><circle cx="291.46" cy="111.20" r="1.1"/><circle cx="294.42" cy="111.20" r="1.1"/><circle cx="297.38" cy="111.20" r="1.1"/><circle cx="300.35" cy="111.20" r="1.1"/><circle cx="303.31" cy="111.20" r="1.1"/><circle cx="306.27" cy="111.20" r="1.1"/><circle cx="309.23" cy="111.20" r="1.1"/><circle cx="312.19" cy="111.20" r="1.1"/><circle cx="315.16" cy="111.20" r="1.1"/><circle cx="318.12" cy="111.20" r="1.1"/><circle cx="321.08" cy="111.50" r="1.1"/><circle cx="324.04" cy="111.50" r="1.1"/><circle cx="327.00" cy="111.50" r="1.1"/><circle cx="329.97" cy="111.50" r="1.1"/><circle cx="332.93" cy="111.50" r="1.1"/><circle cx="335.89" cy="111.50" r="1.1"/><circle cx="338.85" cy="111.50" r="1.1"/><circle cx="341.81" cy="111.50" r="1.1"/><circle cx="344.78" cy="112.25" r="1.1"/><circle cx="347.74" cy="112.25" r="1.1"/><circle cx="350.70" cy="112.10" r="1.1"/></g><g font-family="Liberation Sans, sans-serif" font-size="12" fill="#000"><text x="51.9" y="8.9" text-anchor="end">8.855</text><text x="51.9" y="59.3" text-anchor="end">8.854</text><text x="51.9" y="108.9" text-anchor="end">8.853</text><text x="51.9" y="158.5" text-anchor="end">8.852</text><text x="51.9" y="208.1" text-anchor="end">8.851</text><text x="51.9" y="257.7" text-anchor="end">8.850</text><text x="53.8" y="266" text-anchor="middle">0</text><text x="128.1" y="266" text-anchor="middle">5</text><text x="202.6" y="266" text-anchor="middle">10</text><text x="276.9" y="266" text-anchor="middle">15</text><text x="350.7" y="266" text-anchor="middle">20</text></g><text x="201.5" y="280.5" text-anchor="middle" font-family="Liberation Sans, sans-serif" font-size="15">Time (ms)</text><text transform="translate(14.6,209.5) rotate(-90)" font-family="Liberation Sans, sans-serif" font-size="15.3">EL intensity (10<tspan font-size="11.2" dy="-6.3">-7</tspan><tspan dy="6.3">m</tspan><tspan font-size="11.2" dy="-6.3">-3</tspan><tspan dy="6.3">s</tspan><tspan font-size="11.2" dy="-6.3">-1</tspan><tspan dy="6.3">)</tspan></text><line x1="261" y1="19.3" x2="283.5" y2="19.3" stroke="#3c3cff" stroke-width="1.3"/><circle cx="272.5" cy="19.3" r="1.0" fill="#0000a0"/><text x="285.6" y="23.5" font-family="Liberation Sans, sans-serif" font-size="11.8">Square</text><line x1="261" y1="34.7" x2="283.5" y2="34.7" stroke="#20a020" stroke-width="1.3"/><circle cx="272.5" cy="34.7" r="1.0" fill="#005000"/><text x="285.6" y="38.9" font-family="Liberation Sans, sans-serif" font-size="11.8">Triangular</text><line x1="261" y1="49.5" x2="283.5" y2="49.5" stroke="#dc3040" stroke-width="1.3"/><circle cx="272.5" cy="49.5" r="1.0" fill="#c00000"/><text x="285.6" y="54.1" font-family="Liberation Sans, sans-serif" font-size="11.8">Sinusoidal</text></svg>
</body></html>
